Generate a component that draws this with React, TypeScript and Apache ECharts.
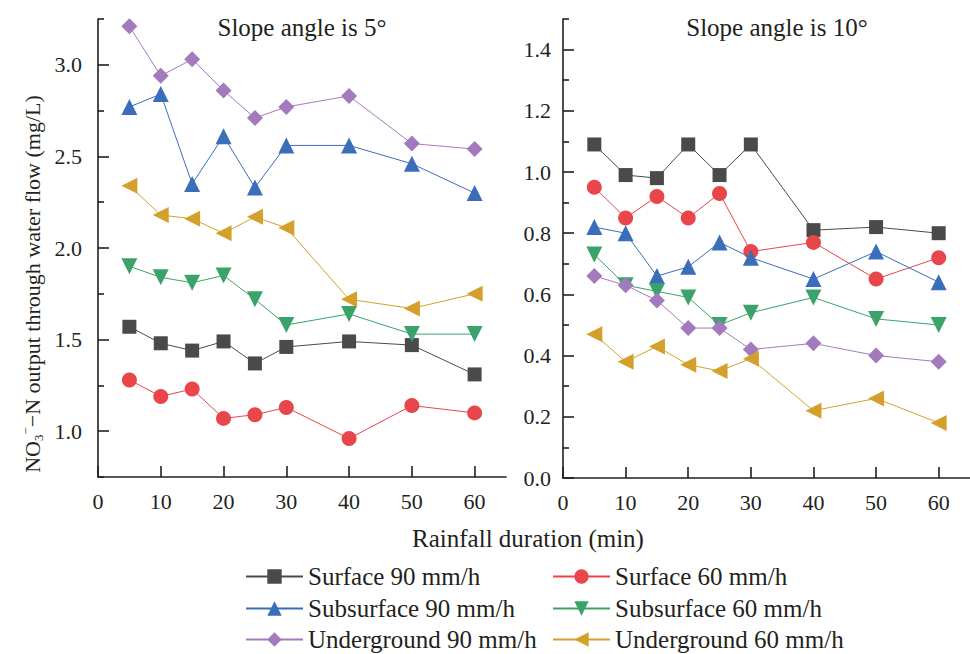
import React, { useEffect, useRef } from "react";
import * as echarts from "echarts";

const durations = [5, 10, 15, 20, 25, 30, 40, 50, 60];

const seriesNames = [
  "Surface 90 mm/h",
  "Surface 60 mm/h",
  "Subsurface 90 mm/h",
  "Subsurface 60 mm/h",
  "Underground 90 mm/h",
  "Underground 60 mm/h",
];

// Slope angle 5°
const surface90_5 = [1.57, 1.48, 1.44, 1.49, 1.37, 1.46, 1.49, 1.47, 1.31];
const surface60_5 = [1.28, 1.19, 1.23, 1.07, 1.09, 1.13, 0.96, 1.14, 1.1];
const subsurface90_5 = [2.77, 2.84, 2.35, 2.61, 2.33, 2.56, 2.56, 2.46, 2.3];
const subsurface60_5 = [1.9, 1.84, 1.81, 1.85, 1.72, 1.58, 1.64, 1.53, 1.53];
const underground90_5 = [3.21, 2.94, 3.03, 2.86, 2.71, 2.77, 2.83, 2.57, 2.54];
const underground60_5 = [2.34, 2.18, 2.16, 2.08, 2.17, 2.11, 1.72, 1.67, 1.75];

// Slope angle 10°
const surface90_10 = [1.09, 0.99, 0.98, 1.09, 0.99, 1.09, 0.81, 0.82, 0.8];
const surface60_10 = [0.95, 0.85, 0.92, 0.85, 0.93, 0.74, 0.77, 0.65, 0.72];
const subsurface90_10 = [0.82, 0.8, 0.66, 0.69, 0.77, 0.72, 0.65, 0.74, 0.64];
const subsurface60_10 = [0.73, 0.63, 0.61, 0.59, 0.5, 0.54, 0.59, 0.52, 0.5];
const underground90_10 = [0.66, 0.63, 0.58, 0.49, 0.49, 0.42, 0.44, 0.4, 0.38];
const underground60_10 = [0.47, 0.38, 0.43, 0.37, 0.35, 0.39, 0.22, 0.26, 0.18];

const xTicks = [0, 10, 20, 30, 40, 50, 60];
const yTicksLeft = [1.0, 1.5, 2.0, 2.5, 3.0];
const yMinorLeft = [0.75, 1.25, 1.75, 2.25, 2.75, 3.25];
const yTicksRight = [0.0, 0.2, 0.4, 0.6, 0.8, 1.0, 1.2, 1.4];
const yMinorRight = [0.1, 0.3, 0.5, 0.7, 0.9, 1.1, 1.3, 1.5];

const colors = ["#4a4a4a", "#e8464b", "#3a6dba", "#3aa36a", "#a47abf", "#d4a02b"];
const symbols = ["rect", "circle", "triangle", "triangle", "diamond", "triangle"];
const rotations = [0, 0, 0, 180, 0, 90];
const sizes = [14, 15, 16, 16, 16, 16];

const FONT = "'Liberation Serif', 'Times New Roman', serif";
const TXT = "#231f20";

export default function App() {
  const ref = useRef<HTMLDivElement>(null);

  useEffect(() => {
    if (!ref.current) return;
    const chart = echarts.init(ref.current, null, { renderer: "svg" });

    const left = [surface90_5, surface60_5, subsurface90_5, subsurface60_5, underground90_5, underground60_5];
    const right = [surface90_10, surface60_10, subsurface90_10, subsurface60_10, underground90_10, underground60_10];

    const mkSeries = (vals: number[], i: number, grid: number) => ({
      type: "line",
      name: seriesNames[i],
      xAxisIndex: grid,
      yAxisIndex: grid * 2,
      data: durations.map((d, k) => [d, vals[k]]),
      symbol: symbols[i],
      symbolSize: sizes[i],
      symbolRotate: rotations[i],
      showAllSymbol: true,
      lineStyle: { color: colors[i], width: 1 },
      itemStyle: { color: colors[i], opacity: 1 },
      emphasis: { disabled: true },
      z: 2 + i,
    });

    const axisLine = { show: true, lineStyle: { color: "#231f20", width: 1.6 } };

    const xAxisCfg = (grid: number) => ({
      type: "value",
      gridIndex: grid,
      min: 0,
      max: 65,
      axisLine,
      axisTick: { show: true, inside: true, length: 11, customValues: xTicks, lineStyle: { color: "#231f20", width: 1.6 } },
      axisLabel: {
        customValues: xTicks,
        margin: 13,
        fontFamily: FONT,
        fontSize: 22,
        color: TXT,
      },
      splitLine: { show: false },
    });

    const legendPos = [
      { left: 245, top: 564 },
      { left: 552, top: 564 },
      { left: 245, top: 596 },
      { left: 552, top: 596 },
      { left: 245, top: 627 },
      { left: 552, top: 627 },
    ];

    const option: any = {
      animation: false,
      backgroundColor: "#ffffff",
      grid: [
        { left: 98, top: 19, width: 408, height: 458 },
        { left: 563, top: 19, width: 407, height: 459 },
      ],
      xAxis: [xAxisCfg(0), xAxisCfg(1)],
      yAxis: [
        {
          type: "value",
          gridIndex: 0,
          min: 0.75,
          max: 3.25,
          position: "left",
          axisLine,
          axisTick: { show: true, inside: true, length: 11, customValues: yTicksLeft, lineStyle: { color: "#231f20", width: 1.6 } },
          axisLabel: {
            customValues: yTicksLeft,
            formatter: (v: number) => v.toFixed(1),
            margin: 16,
            fontFamily: FONT,
            fontSize: 22,
            color: TXT,
          },
          splitLine: { show: false },
        },
        {
          type: "value",
          gridIndex: 0,
          min: 0.75,
          max: 3.25,
          position: "left",
          axisLine: { show: false },
          axisTick: { show: true, inside: true, length: 6, customValues: yMinorLeft, lineStyle: { color: "#231f20", width: 1.6 } },
          axisLabel: { show: false },
          splitLine: { show: false },
        },
        {
          type: "value",
          gridIndex: 1,
          min: 0,
          max: 1.5,
          position: "left",
          axisLine,
          axisTick: { show: true, inside: true, length: 11, customValues: yTicksRight, lineStyle: { color: "#231f20", width: 1.6 } },
          axisLabel: {
            customValues: yTicksRight,
            formatter: (v: number) => v.toFixed(1),
            margin: 12,
            fontFamily: FONT,
            fontSize: 22,
            color: TXT,
          },
          splitLine: { show: false },
        },
        {
          type: "value",
          gridIndex: 1,
          min: 0,
          max: 1.5,
          position: "left",
          axisLine: { show: false },
          axisTick: { show: true, inside: true, length: 6, customValues: yMinorRight, lineStyle: { color: "#231f20", width: 1.6 } },
          axisLabel: { show: false },
          splitLine: { show: false },
        },
      ],
      legend: seriesNames.map((name, i) => ({
        left: legendPos[i].left,
        top: legendPos[i].top,
        itemWidth: 57,
        itemHeight: 18,
        padding: 0,
        data: [name],
        textStyle: { fontFamily: FONT, fontSize: 25, color: TXT },
        selectedMode: false,
      })),
      graphic: [
        {
          type: "text",
          x: 302,
          y: 27,
          style: { text: "Slope angle is 5°", font: `25px ${FONT}`, fill: TXT, align: "center", verticalAlign: "middle" },
        },
        {
          type: "text",
          x: 777,
          y: 27,
          style: { text: "Slope angle is 10°", font: `25px ${FONT}`, fill: TXT, align: "center", verticalAlign: "middle" },
        },
        {
          type: "text",
          x: 528,
          y: 538,
          style: { text: "Rainfall duration (min)", font: `25px ${FONT}`, fill: TXT, align: "center", verticalAlign: "middle" },
        },
        {
          type: "text",
          x: 32,
          y: 284,
          rotation: Math.PI / 2,
          style: {
            text: "{n|NO}{sub|3}{sup|−}{n|−N output through water flow (mg/L)}",
            align: "center",
            verticalAlign: "middle",
            fill: TXT,
            rich: {
              n: { fontFamily: FONT, fontSize: 22, lineHeight: 26, verticalAlign: "middle", fill: TXT },
              sub: { fontFamily: FONT, fontSize: 13, lineHeight: 13, verticalAlign: "bottom", fill: TXT },
              sup: { fontFamily: FONT, fontSize: 13, lineHeight: 13, verticalAlign: "top", fill: TXT },
            },
          },
        },
      ],
      series: [
        ...left.map((v, i) => mkSeries(v, i, 0)),
        ...right.map((v, i) => mkSeries(v, i, 1)),
      ],
    };

    chart.setOption(option);
    return () => chart.dispose();
  }, []);

  return (
    <div
      ref={ref}
      style={{ position: "absolute", left: 0, top: 0, width: 970, height: 654, background: "#fff" }}
    />
  );
}
